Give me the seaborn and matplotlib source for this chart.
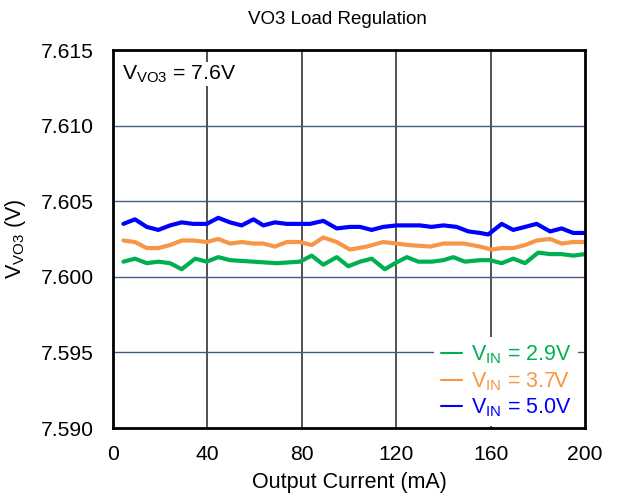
import matplotlib
matplotlib.use("Agg")
import matplotlib.pyplot as plt
import seaborn as sns
import pandas as pd

x_29 = [4.4, 9.3, 14.3, 19.2, 24.2, 29.1, 34.8, 39.7, 44.6, 49.6, 59.5, 69.4, 79.2, 84.2, 89.1,
        94.8, 99.7, 104.7, 109.6, 115.2, 119.5, 124.5, 129.4, 135.0, 140, 144.2, 149.1, 155.5,
        159.7, 164.7, 169.6, 174.6, 180.2, 185.2, 190.1, 195, 200]
v_29 = [7.6010, 7.6012, 7.6009, 7.6010, 7.6009, 7.6005, 7.6012, 7.6010, 7.6013, 7.6011, 7.6010,
        7.6009, 7.6010, 7.6014, 7.6008, 7.6013, 7.6007, 7.6010, 7.6012, 7.6005, 7.6009, 7.6013,
        7.6010, 7.6010, 7.6011, 7.6013, 7.6010, 7.6011, 7.6011, 7.6009, 7.6012, 7.6009, 7.6016,
        7.6015, 7.6015, 7.6014, 7.6015]

x_37 = [4.4, 9.3, 14.3, 19.2, 24.2, 29.1, 34, 39.7, 44.6, 49.6, 54.5, 59.5, 63.7, 68.6, 73.6,
        79.2, 84.2, 89.1, 94.8, 100.4, 107.5, 114.5, 120.2, 125.1, 134.5, 140, 148.5, 155.5,
        160.4, 164.7, 169.6, 174.6, 179.5, 185.2, 190.1, 195, 200]
v_37 = [7.6024, 7.6023, 7.6019, 7.6019, 7.6021, 7.6024, 7.6024, 7.6023, 7.6025, 7.6022, 7.6023,
        7.6022, 7.6022, 7.6020, 7.6023, 7.6023, 7.6021, 7.6026, 7.6023, 7.6018, 7.6020, 7.6023,
        7.6022, 7.6021, 7.6020, 7.6022, 7.6022, 7.6020, 7.6018, 7.6019, 7.6019, 7.6021, 7.6024,
        7.6025, 7.6022, 7.6023, 7.6023]

x_50 = [4.4, 9.3, 14.3, 19.2, 24.2, 29.1, 34, 39.7, 44.6, 49.6, 54.5, 59.5, 63.7, 68.6, 73.6,
        77.8, 83.5, 89.1, 94.8, 100.4, 104.7, 109.6, 114.5, 120.2, 125.1, 130.1, 135.0, 140,
        145.6, 150.6, 155.5, 159, 164.7, 169.6, 174.6, 179.5, 185.2, 190.1, 195, 200]
v_50 = [7.6035, 7.6038, 7.6033, 7.6031, 7.6034, 7.6036, 7.6035, 7.6035, 7.6039, 7.6036, 7.6034,
        7.6038, 7.6034, 7.6036, 7.6035, 7.6035, 7.6035, 7.6037, 7.6032, 7.6033, 7.6033, 7.6031,
        7.6033, 7.6034, 7.6034, 7.6034, 7.6033, 7.6034, 7.6033, 7.6030, 7.6029, 7.6028, 7.6035,
        7.6031, 7.6033, 7.6035, 7.6030, 7.6032, 7.6029, 7.6029]

series_names = ["2.9V", "3.7V", "5.0V"]
series_colors = ["#00b050", "#f79646", "#0000ff"]
x_ticks = [0, 40, 80, 120, 160, 200]
y_ticks = [7.590, 7.595, 7.600, 7.605, 7.610, 7.615]

frames = []
for name, xs, vs in zip(series_names, [x_29, x_37, x_50], [v_29, v_37, v_50]):
    frames.append(pd.DataFrame({"I": xs, "V": vs, "Vin": name}))
df = pd.concat(frames, ignore_index=True)

sns.set_theme(style="white")
plt.rcParams["font.family"] = ["Liberation Sans", "DejaVu Sans"]
plt.rcParams["mathtext.fontset"] = "custom"
plt.rcParams["mathtext.rm"] = "Liberation Sans"

fig = plt.figure(figsize=(6.22, 5.0), dpi=100)
ax = fig.add_axes([0.1817, 0.144, 0.7588, 0.756])

sns.lineplot(data=df, x="I", y="V", hue="Vin", palette=dict(zip(series_names, series_colors)),
             sort=False, estimator=None, linewidth=3.0, ax=ax, legend=False, zorder=3)
for ln in ax.get_lines():
    ln.set_solid_joinstyle("round")
    ln.set_solid_capstyle("round")

ax.set_xlim(0, 200)
ax.set_ylim(7.590, 7.615)
ax.set_xticks(x_ticks)
ax.set_xticklabels([str(t) for t in x_ticks])
ax.set_yticks(y_ticks)
ax.set_yticklabels([f"{t:.3f}" for t in y_ticks])
ax.tick_params(axis="x", length=0, labelsize=15.2, colors="black", pad=12)
ax.tick_params(axis="y", length=0, labelsize=15.2, colors="black", pad=14)

for t in x_ticks[1:-1]:
    ax.axvline(t, color="#222222", linewidth=1.1, zorder=1)
for t in y_ticks[1:-1]:
    ax.axhline(t, color="#3f5a85", linewidth=1.0, zorder=1)

for s in ax.spines.values():
    s.set_color("black")
    s.set_linewidth(2.0)
    s.set_zorder(5)

ax.set_title("VO3 Load Regulation", fontsize=13.5, pad=19, color="black", x=0.475)
ax.set_xlabel("Output Current (mA)", fontsize=15.5, labelpad=6, color="black")
ax.set_ylabel(r"$\mathregular{V_{VO3}}$ (V)", fontsize=15.5, labelpad=9, color="black")

ax.text(0.02, 0.965, r"$\mathregular{V_{VO3}}$ = 7.6V", transform=ax.transAxes, fontsize=15.3,
        ha="left", va="top", color="black", zorder=4,
        bbox=dict(facecolor="white", edgecolor="none", pad=1))

handles = [plt.Line2D([], [], color=c, linewidth=1.5) for c in series_colors]
labels = [r"$\mathregular{V_{IN}}$ = " + n for n in series_names]
leg = ax.legend(handles, labels, loc="lower right", bbox_to_anchor=(0.995, -0.005), fontsize=15.5,
                frameon=True, framealpha=1.0, edgecolor="none", facecolor="white",
                handlelength=1.0, handletextpad=0.4, labelspacing=0.18, borderpad=0.3,
                borderaxespad=0.2)
leg.set_zorder(6)
for txt, c in zip(leg.get_texts(), series_colors):
    txt.set_color(c)

fig.savefig("out.png", dpi=100)
